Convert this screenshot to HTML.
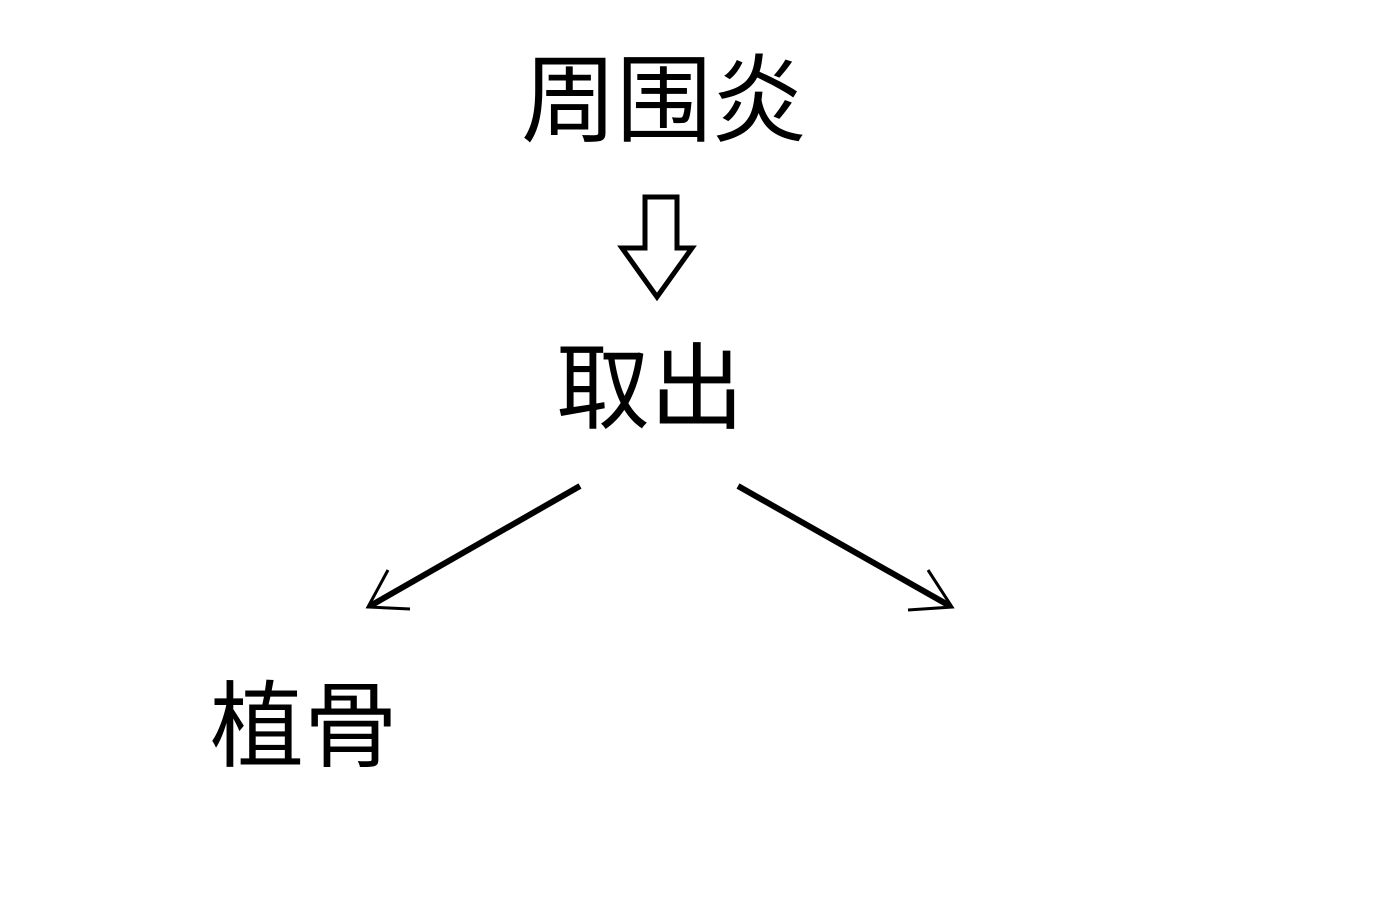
<!DOCTYPE html>
<html><head><meta charset="utf-8"><style>
html,body{margin:0;padding:0;background:#fff;width:1380px;height:920px;overflow:hidden;position:relative}
.t{position:absolute;font-family:"Liberation Sans","Noto Sans CJK SC",sans-serif;color:#000;line-height:1;white-space:nowrap;font-weight:400}
</style></head><body>
<div class="t" style="left:521px;top:54px;font-size:96px;letter-spacing:-1px">周围炎</div>
<div class="t" style="left:556px;top:342px;font-size:94px">取出</div>
<div class="t" style="left:210px;top:680px;font-size:94px">植骨</div>
<svg width="1380" height="920" style="position:absolute;left:0;top:0">
<polygon points="645,197 677,197 677,248 692,248 657,297 622,248 645,248" fill="none" stroke="#000" stroke-width="5" stroke-linejoin="miter"/>
<g stroke="#000" stroke-width="6" stroke-linecap="butt" fill="none">
<line x1="580" y1="486" x2="370" y2="606"/>
<line x1="738" y1="486" x2="950" y2="606"/>
</g>
<g stroke="#000" stroke-width="3" fill="none">
<polyline points="388,570 368,607 410,609"/>
<polyline points="928,570 952,607 908,610"/>
</g>
</svg>
</body></html>
